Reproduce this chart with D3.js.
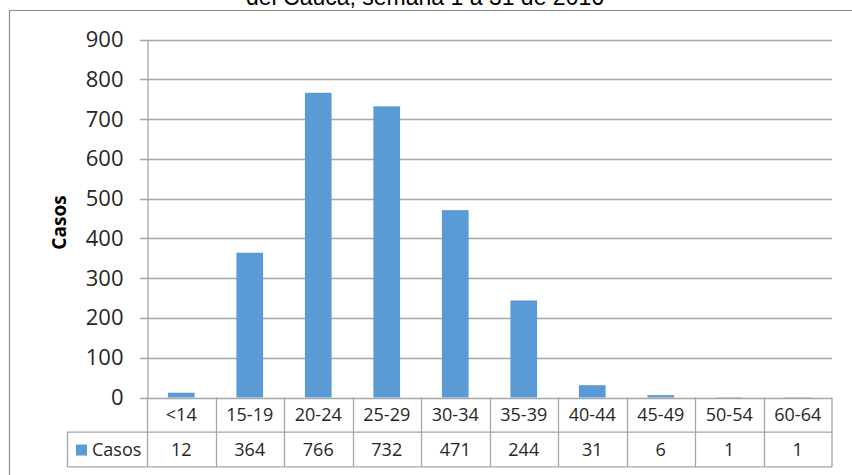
<!DOCTYPE html>
<html>
<head>
<meta charset="utf-8">
<script src="https://cdn.jsdelivr.net/npm/d3@7"></script>
<style>
  html, body { margin: 0; padding: 0; background: #fff; }
  svg { display: block; }
</style>
</head>
<body>
<svg id="chart" width="852" height="475"></svg>
<script>
// Casos por grupo de edad
const categories = ["<14", "15-19", "20-24", "25-29", "30-34", "35-39", "40-44", "45-49", "50-54", "60-64"];
const casos = [12, 364, 766, 732, 471, 244, 31, 6, 1, 1];
const yTicks = [0, 100, 200, 300, 400, 500, 600, 700, 800, 900];
const seriesName = "Casos";
const titleText = "del Cauca, semana 1 a 31 de 2016";

const W = 852, H = 475;
const plot = { left: 147, right: 832, top: 39.5, bottom: 397.5 };
const rowH = 34.7;
const legendLeft = 67;
const gridColor = "#a6a6a6";
const barColor = "#5b9bd5";
const font = "'Open Sans', 'Liberation Sans', sans-serif";

const svg = d3.select("#chart");

// Outer chart frame (partially visible)
svg.append("line").attr("x1", 9).attr("x2", W).attr("y1", 10.5).attr("y2", 10.5)
  .attr("stroke", "#8c8c8c").attr("stroke-width", 1.2);
svg.append("line").attr("x1", 9.5).attr("x2", 9.5).attr("y1", 10).attr("y2", H)
  .attr("stroke", "#8c8c8c").attr("stroke-width", 1.2);

// Title (upper part runs past the top edge)
svg.append("text").attr("x", 425).attr("y", 5)
  .attr("text-anchor", "middle")
  .attr("font-family", "'Liberation Sans', Arial, sans-serif")
  .attr("font-size", 23).attr("fill", "#000")
  .text(titleText);

const x = d3.scaleBand().domain(categories).range([plot.left, plot.right]).paddingInner(0).paddingOuter(0);
const y = d3.scaleLinear().domain([0, 900]).range([plot.bottom, plot.top]);

// Gridlines
svg.append("g").selectAll("line").data(yTicks).join("line")
  .attr("x1", plot.left - 7).attr("x2", plot.right)
  .attr("y1", d => Math.round(y(d)) + 0.5).attr("y2", d => Math.round(y(d)) + 0.5)
  .attr("stroke", gridColor).attr("stroke-width", 1.3);

// Y axis
const yAxis = d3.axisLeft(y).tickValues(yTicks).tickSize(0).tickPadding(24);
const gy = svg.append("g").attr("transform", `translate(${plot.left + 0.5},0)`).call(yAxis);
gy.select(".domain").attr("stroke", gridColor).attr("stroke-width", 1.3);
gy.selectAll("text").attr("font-family", font).attr("font-size", 22).attr("fill", "#262626");

// Y axis title
svg.append("text")
  .attr("transform", `translate(66,${(plot.top + plot.bottom) / 2 + 4}) rotate(-90)`)
  .attr("text-anchor", "middle")
  .attr("font-family", font).attr("font-weight", "bold")
  .attr("font-size", 19).attr("fill", "#000")
  .text(seriesName);

// Bars
const bw = x.bandwidth() * 0.39;
svg.append("g").selectAll("rect").data(casos).join("rect")
  .attr("x", (d, i) => x(categories[i]) + (x.bandwidth() - bw) / 2)
  .attr("width", bw)
  .attr("y", d => y(d))
  .attr("height", d => y(0) - y(d))
  .attr("fill", barColor);

// Data table
const t = svg.append("g");
const top1 = plot.bottom, top2 = plot.bottom + rowH, bot = plot.bottom + 2 * rowH;
const lineAttr = sel => sel.attr("stroke", gridColor).attr("stroke-width", 1.3);

t.append("line").attr("x1", plot.right).attr("x2", plot.right).attr("y1", top1).attr("y2", bot).call(lineAttr);
t.selectAll(".v").data(categories).join("line")
  .attr("x1", d => Math.round(x(d)) + 0.5).attr("x2", d => Math.round(x(d)) + 0.5)
  .attr("y1", top1).attr("y2", bot).call(lineAttr);
t.append("line").attr("x1", legendLeft).attr("x2", plot.right).attr("y1", top2).attr("y2", top2).call(lineAttr);
t.append("line").attr("x1", legendLeft).attr("x2", plot.right).attr("y1", bot).attr("y2", bot).call(lineAttr);
t.append("line").attr("x1", legendLeft + 0.5).attr("x2", legendLeft + 0.5).attr("y1", top2).attr("y2", bot).call(lineAttr);

t.selectAll(".cat").data(categories).join("text")
  .attr("x", d => x(d) + x.bandwidth() / 2)
  .attr("y", top1 + rowH / 2 + 6)
  .attr("text-anchor", "middle")
  .attr("font-family", font).attr("font-size", 18).attr("fill", "#262626")
  .text(d => d);

t.selectAll(".val").data(casos).join("text")
  .attr("x", (d, i) => x(categories[i]) + x.bandwidth() / 2)
  .attr("y", top2 + rowH / 2 + 6)
  .attr("text-anchor", "middle")
  .attr("font-family", font).attr("font-size", 18).attr("fill", "#262626")
  .text(d => d);

// Legend key
t.append("rect").attr("x", 76).attr("y", top2 + rowH / 2 - 5).attr("width", 11).attr("height", 11).attr("fill", barColor);
t.append("text").attr("x", 92).attr("y", top2 + rowH / 2 + 6)
  .attr("font-family", font).attr("font-size", 18).attr("fill", "#262626")
  .text(seriesName);
</script>
</body>
</html>
